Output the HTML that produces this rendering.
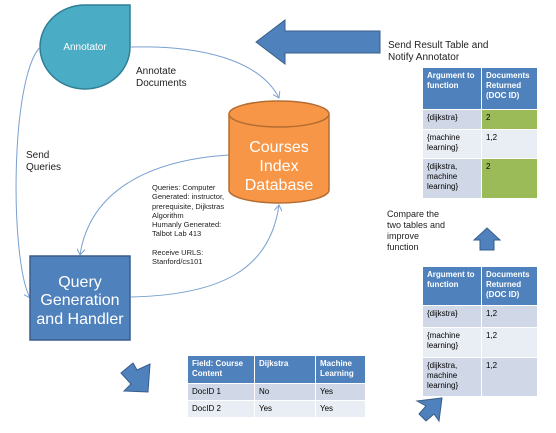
<!DOCTYPE html>
<html><head><style>
body{margin:0;width:556px;height:433px;background:#fff;position:relative;overflow:hidden;font-family:"Liberation Sans",sans-serif}
.t{position:absolute;font-size:10px;line-height:12px;color:#222}
.s{position:absolute;font-size:7.5px;line-height:9.3px;color:#222}
table{position:absolute;border-collapse:collapse;font-size:8px;line-height:10px;table-layout:fixed}
td{padding:3px 4px;vertical-align:top;border:1px solid #fff}
th{background:#4f81bd;color:#fff;text-align:left;font-weight:bold;padding:3px 4px;vertical-align:top;border:1px solid #fff}
.a{background:#d0d8e8}.b{background:#e9edf4}.g{background:#9bbb59}
</style></head><body>
<svg width="556" height="433" style="position:absolute;left:0;top:0">
<defs><marker id="m" markerWidth="8" markerHeight="8" refX="6" refY="4" orient="auto"><path d="M0,0 L6,4 L0,8" fill="none" stroke="#7aa0d0" stroke-width="1"/></marker></defs>
<path d="M130,5 L130,47 A45,42 0 1 1 85,5 Z" fill="#4bacc6" stroke="#2f7f95" stroke-width="1.5"/>
<path d="M131,47 C200,45 260,60 279,98" fill="none" stroke="#7aa0d0" marker-end="url(#m)"/>
<path d="M40,47 C10,80 10,260 30,298" fill="none" stroke="#7aa0d0" marker-end="url(#m)"/>
<path d="M229,155 C150,160 90,190 80,255" fill="none" stroke="#7aa0d0" marker-end="url(#m)"/>
<path d="M131,297 C220,295 270,270 279,205" fill="none" stroke="#7aa0d0" marker-end="url(#m)"/>
<path d="M229,114 L229,190 A50,13 0 0 0 329,190 L329,114" fill="#f79646" stroke="#b66d31" stroke-width="1.5"/>
<ellipse cx="279" cy="114" rx="50" ry="13" fill="#f79646" stroke="#b66d31" stroke-width="1.5"/>
<rect x="30" y="256" width="100" height="84" fill="#4f81bd" stroke="#385d8a" stroke-width="1.5"/>
<path d="M256,42 L285,20 L285,31 L380,31 L380,53 L285,53 L285,64 Z" fill="#4f81bd" stroke="#385d8a"/>
<path d="M487,228 L500,240 L494,240 L494,250 L480,250 L480,240 L474,240 Z" fill="#4f81bd" stroke="#385d8a"/>
<path d="M121,373 L133,363 L137,370 L150,364 L148,392 L124,391 L131,384 Z" fill="#4f81bd" stroke="#385d8a"/>
<path d="M417,401 L442,398 L439,421 L434,414 L426,421 L419,414 L426,406 Z" fill="#4f81bd" stroke="#385d8a"/>
<text x="85" y="50" fill="#fff" font-size="10" text-anchor="middle" font-family="Liberation Sans">Annotator</text>
<g fill="#fff" font-size="16" text-anchor="middle" font-family="Liberation Sans"><text x="279" y="152">Courses</text><text x="279" y="171">Index</text><text x="279" y="190">Database</text>
<text x="80" y="287">Query</text><text x="80" y="305">Generation</text><text x="80" y="324">and Handler</text></g>
</svg>
<div class="t" style="left:136px;top:66px">Annotate<br>Documents</div>
<div class="t" style="left:26px;top:150px">Send<br>Queries</div>
<div class="t" style="left:388px;top:40px">Send Result Table and<br>Notify Annotator</div>
<div class="t" style="left:387px;top:209px;font-size:9px;line-height:11px">Compare the<br>two tables and<br>improve<br>function</div>
<div class="s" style="left:152px;top:183px">Queries: Computer<br>Generated: instructor,<br>prerequisite, Dijkstras<br>Algorithm<br>Humanly Generated:<br>Talbot Lab 413<br><br>Receive URLS:<br>Stanford/cs101</div>
<table style="left:422px;top:67px;width:116px">
<tr><th style="width:50px;height:35px">Argument to function</th><th>Documents Returned (DOC ID)</th></tr>
<tr><td class="a" style="height:13px">{dijkstra}</td><td class="g">2</td></tr>
<tr><td class="b" style="height:22px">{machine learning}</td><td class="b">1,2</td></tr>
<tr><td class="a" style="height:33px">{dijkstra, machine learning}</td><td class="g">2</td></tr>
</table>
<table style="left:422px;top:266px;width:116px">
<tr><th style="width:50px;height:32px">Argument to function</th><th>Documents Returned (DOC ID)</th></tr>
<tr><td class="a" style="height:15px">{dijkstra}</td><td class="a">1,2</td></tr>
<tr><td class="b" style="height:23px">{machine learning}</td><td class="b">1,2</td></tr>
<tr><td class="a" style="height:32px">{dijkstra, machine learning}</td><td class="a">1,2</td></tr>
</table>
<table style="left:187px;top:355px;width:179px">
<tr><th style="width:58px;height:21px;white-space:nowrap">Field: Course<br>Content</th><th style="width:52px">Dijkstra</th><th>Machine Learning</th></tr>
<tr><td class="a" style="height:10px">DocID 1</td><td class="a">No</td><td class="a">Yes</td></tr>
<tr><td class="b" style="height:10px">DocID 2</td><td class="b">Yes</td><td class="b">Yes</td></tr>
</table>
</body></html>
